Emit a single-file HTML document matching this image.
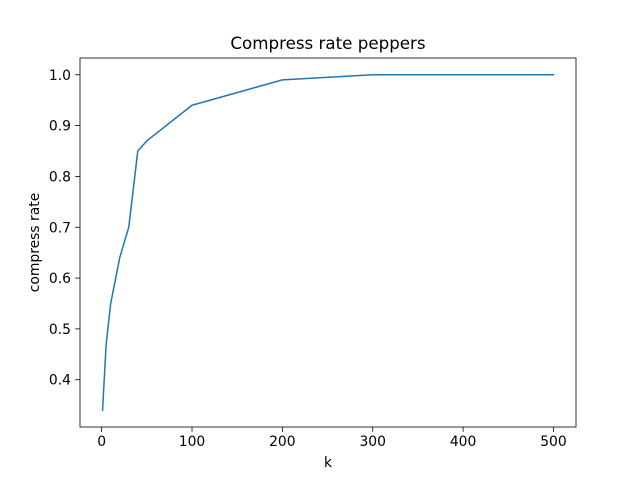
<!DOCTYPE html>
<html><head><meta charset="utf-8"><style>
body{margin:0;background:#fff;}
svg text{font-family:"DejaVu Sans","Liberation Sans",sans-serif;fill:#000;}
</style></head><body>
<svg id="chart" width="640" height="480">
<rect width="640" height="480" fill="#fff"/>
</svg>
<script>
const kValues=[1,5,10,20,30,40,50,100,200,300,500];
const rateValues=[0.34,0.47,0.55,0.64,0.70,0.85,0.87,0.94,0.99,1.0,1.0];
const xTicks=[0,100,200,300,400,500];
const yTicks=[0.4,0.5,0.6,0.7,0.8,0.9,1.0];
const NS="http://www.w3.org/2000/svg";
const svg=document.getElementById('chart');
const L=80,R=576,T=58,B=427;
const xmin0=Math.min(...kValues),xmax0=Math.max(...kValues),xp=(xmax0-xmin0)*0.05;
const ymin0=Math.min(...rateValues),ymax0=Math.max(...rateValues),yp=(ymax0-ymin0)*0.05;
const xmin=xmin0-xp,xmax=xmax0+xp,ymin=ymin0-yp,ymax=ymax0+yp;
const X=v=>L+(v-xmin)/(xmax-xmin)*(R-L);
const Y=v=>B-(v-ymin)/(ymax-ymin)*(B-T);
function mk(tag,attrs,txt){const e=document.createElementNS(NS,tag);for(const k in attrs)e.setAttribute(k,attrs[k]);if(txt!==undefined)e.textContent=txt;svg.appendChild(e);return e;}
const line=mk('polyline',{points:kValues.map((k,i)=>X(k)+','+Y(rateValues[i])).join(' '),fill:'none',stroke:'#1f77b4','stroke-width':1.5,'stroke-linejoin':'round','stroke-linecap':'square'});


const frame=mk('rect',{x:L,y:T,width:R-L,height:B-T,fill:'none',stroke:'#000','stroke-width':0.8});


xTicks.forEach(t=>{const x=X(t);
const tk=mk('line',{x1:x,x2:x,y1:B,y2:B+4.9,stroke:'#000','stroke-width':0.8});


const lb=mk('text',{x:x,y:B+19,'text-anchor':'middle','font-size':13.9},String(t));

});
yTicks.forEach(t=>{const y=Y(t);
const tk=mk('line',{x1:L-4.9,x2:L,y1:y,y2:y,stroke:'#000','stroke-width':0.8});


const lb=mk('text',{x:L-9,y:y+5,'text-anchor':'end','font-size':13.9},t.toFixed(1));

});
const title=mk('text',{x:(L+R)/2,y:T-9,'text-anchor':'middle','font-size':16.7},'Compress rate peppers');


const xl=mk('text',{x:(L+R)/2,y:467,'text-anchor':'middle','font-size':13.9},'k');


const yl=mk('text',{x:0,y:0,'text-anchor':'middle','font-size':13.9,transform:'translate(39,'+((T+B)/2)+') rotate(-90)'},'compress rate');


</script>
</body></html>
